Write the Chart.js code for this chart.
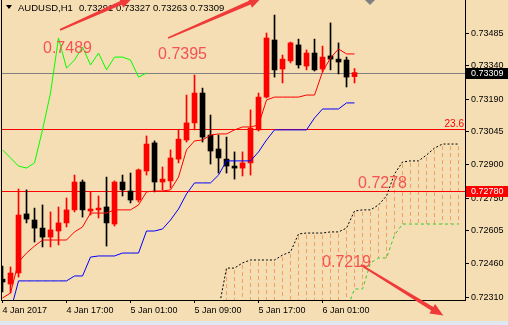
<!DOCTYPE html>
<html>
<head>
<meta charset="utf-8">
<script src="https://cdn.jsdelivr.net/npm/chart.js@4.4.1/dist/chart.umd.min.js"></script>
<style>
  html, body { margin: 0; padding: 0; background: #f5deb3; overflow: hidden; }
  #wrap { width: 508px; height: 325px; }
</style>
</head>
<body>
<div id="wrap"><canvas id="myChart" width="508" height="325"></canvas></div>
<script>
// AUDUSD H1, bar 0 = 4 Jan 2017 09:00, one bar per hour
const open = [0.72390, 0.72368, 0.72417, 0.72680, 0.72653, 0.72617, 0.72577, 0.72604, 0.72640, 0.72698,
  0.72822, 0.72693, 0.72698, 0.72711, 0.72635, 0.72822, 0.72782, 0.72742, 0.72871, 0.72996,
  0.72822, 0.72827, 0.72924, 0.73009, 0.73085, 0.73218, 0.73031, 0.72969, 0.72924, 0.72893,
  0.72884, 0.72907, 0.73054, 0.73200, 0.73454, 0.73325, 0.73361, 0.73432, 0.73338, 0.73396,
  0.73325, 0.73383, 0.73369, 0.73365, 0.73291];
const high = [0.72448, 0.72444, 0.72791, 0.72787, 0.72706, 0.72720, 0.72689, 0.72711, 0.72751, 0.72853,
  0.72831, 0.72778, 0.72760, 0.72844, 0.72827, 0.72853, 0.72862, 0.72880, 0.73027, 0.73005,
  0.72889, 0.72965, 0.73054, 0.73209, 0.73298, 0.73240, 0.73120, 0.73031, 0.73022, 0.72956,
  0.72956, 0.73143, 0.73218, 0.73485, 0.73565, 0.73387, 0.73445, 0.73458, 0.73410, 0.73458,
  0.73427, 0.73530, 0.73441, 0.73378, 0.73327];
const low = [0.72333, 0.72328, 0.72399, 0.72640, 0.72555, 0.72533, 0.72533, 0.72542, 0.72622, 0.72689,
  0.72666, 0.72675, 0.72662, 0.72537, 0.72626, 0.72760, 0.72729, 0.72733, 0.72853, 0.72778,
  0.72787, 0.72795, 0.72907, 0.73000, 0.73054, 0.73000, 0.72902, 0.72862, 0.72862, 0.72835,
  0.72849, 0.72853, 0.73049, 0.73196, 0.73289, 0.73263, 0.73352, 0.73329, 0.73321, 0.73316,
  0.73312, 0.73321, 0.73303, 0.73245, 0.73263];
const close = [0.72377, 0.72417, 0.72675, 0.72657, 0.72617, 0.72577, 0.72609, 0.72640, 0.72698, 0.72822,
  0.72698, 0.72702, 0.72706, 0.72640, 0.72822, 0.72787, 0.72742, 0.72876, 0.72991, 0.72822,
  0.72835, 0.72929, 0.73013, 0.73085, 0.73218, 0.73022, 0.72960, 0.72929, 0.72893, 0.72884,
  0.72907, 0.73062, 0.73200, 0.73463, 0.73321, 0.73369, 0.73441, 0.73343, 0.73396, 0.73321,
  0.73378, 0.73369, 0.73356, 0.73289, 0.73309];

// ichimoku lines
const tenkan = [0.72306, 0.72328, 0.72466, 0.72506, 0.72537, 0.72564, 0.72564, 0.72564, 0.72564, 0.72600,
  0.72622, 0.72684, 0.72684, 0.72684, 0.72698, 0.72698, 0.72698, 0.72720, 0.72778, 0.72782,
  0.72782, 0.72787, 0.72844, 0.72965, 0.73005, 0.73009, 0.73031, 0.73036, 0.73036, 0.73054,
  0.73067, 0.73067, 0.73076, 0.73187, 0.73200, 0.73200, 0.73200, 0.73200, 0.73209, 0.73209,
  0.73312, 0.73374, 0.73414, 0.73392, 0.73392];
const kijun = [0.72248, 0.72248, 0.72382, 0.72382, 0.72382, 0.72382, 0.72382, 0.72382, 0.72382, 0.72404,
  0.72404, 0.72488, 0.72493, 0.72493, 0.72493, 0.72506, 0.72506, 0.72506, 0.72604, 0.72604,
  0.72613, 0.72653, 0.72702, 0.72769, 0.72818, 0.72818, 0.72818, 0.72853, 0.72916, 0.72916,
  0.72916, 0.72916, 0.72956, 0.73009, 0.73054, 0.73054, 0.73054, 0.73054, 0.73054, 0.73107,
  0.73147, 0.73147, 0.73147, 0.73174, 0.73174];
const chikou = [0.72965, 0.72929, 0.72893, 0.72884, 0.72907, 0.73054, 0.73218, 0.73463, 0.73329, 0.73365,
  0.73423, 0.73343, 0.73396, 0.73321, 0.73378, 0.73378, 0.73365, 0.73289, 0.73307];

// cloud, starts at bar 27
const cloudStart = 27;
const spanA = [0.72253, 0.72439, 0.72439, 0.72462, 0.72475, 0.72475, 0.72475, 0.72475, 0.72497, 0.72511,
  0.72591, 0.72595, 0.72595, 0.72595, 0.72600, 0.72600, 0.72617, 0.72693, 0.72698, 0.72698,
  0.72720, 0.72760, 0.72858, 0.72911, 0.72916, 0.72916, 0.72942, 0.72973, 0.72991, 0.72991,
  0.72991];
const spanB = [null, null, null, null, null, null, null, null, null, null,
  null, null, null, null, null, null, 0.72250, 0.72346, 0.72346, 0.72462,
  0.72484, 0.72484, 0.72586, 0.72635, 0.72635, 0.72635, 0.72635, 0.72635, 0.72635, 0.72635,
  0.72635];

const fibLevels = [0.73058, 0.72780];
const fibTag = '23.6';

const xTickIdx = [0, 8, 16, 24, 32, 40];
const xTickLabels = ['4 Jan 2017', '4 Jan 17:00', '5 Jan 01:00', '5 Jan 09:00', '5 Jan 17:00', '6 Jan 01:00'];
const yTicks = [0.73485, 0.73340, 0.73190, 0.73045, 0.72900, 0.72750, 0.72605, 0.72460, 0.72310];

// hand drawn notes (bar index, price)
const noteText = ['0.7489', '0.7395', '0.7278', '0.7219'];
const noteIdx = [5.06, 19.44, 44.44, 39.94];
const notePrice = [0.73396, 0.73369, 0.72795, 0.72444];
const arrowFrom = [[7.19, 0.73499], [20.7, 0.73463], [44.8, 0.72453]];
const arrowTo = [[16.3, 0.73643], [32.4, 0.73643], [55.1, 0.72228]];

const BULL = '#ff0000', BEAR = '#000000';
const candleCol = close.map((c, i) => c >= open[i] ? BULL : BEAR);
const FONT = "'Liberation Sans', Arial, sans-serif";

const pts = (arr, start) => arr.map((v, i) => ({ x: i + (start || 0), y: v }));

function arrow(ctx, x1, y1, x2, y2) {
  const a = Math.atan2(y2 - y1, x2 - x1), L = 13, W = 5.5;
  const c = Math.cos(a), s = Math.sin(a);
  const bx = x2 - L * c, by = y2 - L * s;
  ctx.beginPath();
  ctx.moveTo(x1 + 0.9 * s, y1 - 0.9 * c);
  ctx.lineTo(bx + 2 * s, by - 2 * c);
  ctx.lineTo(bx + W * s, by - W * c);
  ctx.lineTo(x2, y2);
  ctx.lineTo(bx - W * s, by + W * c);
  ctx.lineTo(bx - 2 * s, by + 2 * c);
  ctx.lineTo(x1 - 0.9 * s, y1 + 0.9 * c);
  ctx.closePath();
  ctx.fill();
}

const deco = {
  id: 'deco',
  beforeDraw(chart) {
    const { ctx, width, height } = chart;
    ctx.save();
    ctx.fillStyle = '#f5deb3';
    ctx.fillRect(0, 0, width, height);
    ctx.fillStyle = '#dfe7f0';
    ctx.fillRect(0, height - 4, width, 4);
    ctx.restore();
  },
  beforeDatasetsDraw(chart) {
    const { ctx, chartArea: a, scales: { x, y } } = chart;
    ctx.save();
    ctx.beginPath();
    ctx.rect(a.left, a.top, a.right - a.left, a.bottom - a.top);
    ctx.clip();
    // cloud hatch
    ctx.strokeStyle = '#f7a05a';
    ctx.lineWidth = 1;
    ctx.setLineDash([4, 3]);
    spanA.forEach((v, k) => {
      if (v == null) return;
      const px = Math.floor(x.getPixelForValue(cloudStart + k)) + 0.5;
      const y1 = y.getPixelForValue(v);
      const y2 = spanB[k] == null ? a.bottom : y.getPixelForValue(spanB[k]);
      if (y1 >= a.bottom) return;
      ctx.beginPath();
      ctx.moveTo(px, y1 + 2);
      ctx.lineTo(px, y2);
      ctx.stroke();
    });
    ctx.setLineDash([]);
    // bid line
    const bid = close[close.length - 1];
    const py = Math.round(y.getPixelForValue(bid)) + 0.5;
    ctx.strokeStyle = '#808080';
    ctx.beginPath(); ctx.moveTo(a.left, py); ctx.lineTo(a.right, py); ctx.stroke();
    ctx.strokeStyle = '#ff0000';
    fibLevels.forEach(v => {
      const p = Math.round(y.getPixelForValue(v)) + 0.5;
      ctx.beginPath(); ctx.moveTo(a.left, p); ctx.lineTo(a.right + 1, p); ctx.stroke();
    });
    ctx.restore();
  },
  afterDraw(chart) {
    const { ctx, chartArea: a, scales: { x, y } } = chart;
    ctx.save();
    // left border
    ctx.fillStyle = '#000';
    ctx.fillRect(a.left, a.top, 1, a.bottom - a.top);
    // header
    ctx.beginPath();
    ctx.moveTo(6, 5); ctx.lineTo(12, 5); ctx.lineTo(9, 9); ctx.closePath(); ctx.fill();
    ctx.font = '9.5px ' + FONT;
    ctx.textBaseline = 'alphabetic';
    ctx.textAlign = 'left';
    const n = close.length - 1;
    ctx.fillText('AUDUSD,H1', 18, 11);
    ctx.fillText([open[n], high[n], low[n], close[n]].map(v => v.toFixed(5)).join(' '), 79, 11);
    // shift marker
    ctx.fillStyle = '#808080';
    ctx.beginPath();
    ctx.moveTo(365, 0); ctx.lineTo(375, 0); ctx.lineTo(370, 5); ctx.closePath(); ctx.fill();
    // fib tag
    ctx.fillStyle = '#ff0000';
    ctx.font = '10px ' + FONT;
    ctx.textAlign = 'right';
    ctx.fillText(fibTag, a.right - 1, Math.round(y.getPixelForValue(fibLevels[0])) - 2);
    // notes
    ctx.fillStyle = 'rgb(242,84,84)';
    ctx.font = '16px ' + FONT;
    ctx.textAlign = 'left';
    noteText.forEach((t, i) => ctx.fillText(t, x.getPixelForValue(noteIdx[i]), y.getPixelForValue(notePrice[i])));
    // arrows
    ctx.fillStyle = 'rgb(240,58,58)';
    arrowFrom.forEach((f, i) => arrow(ctx,
      x.getPixelForValue(f[0]), y.getPixelForValue(f[1]),
      x.getPixelForValue(arrowTo[i][0]), y.getPixelForValue(arrowTo[i][1])));
    // price boxes on axis
    ctx.font = '9px ' + FONT;
    ctx.textBaseline = 'middle';
    ctx.textAlign = 'left';
    const box = (v, bg) => {
      const p = Math.round(y.getPixelForValue(v));
      ctx.fillStyle = bg;
      ctx.fillRect(a.right + 1, p - 5, chart.width - a.right - 1, 11);
      ctx.fillStyle = '#fff';
      ctx.fillText(v.toFixed(5), a.right + 6, p + 0.5);
    };
    box(close[n], '#000');
    box(fibLevels[1], '#ff0000');
    ctx.restore();
  }
};

Chart.defaults.font.family = FONT;
Chart.defaults.font.size = 9;
Chart.defaults.color = '#000';

const config = {
  type: 'bar',
  data: {
    datasets: [
      { type: 'line', data: pts(tenkan), borderColor: '#ff0000', borderWidth: 1, pointRadius: 0, order: 0 },
      { type: 'line', data: pts(kijun), borderColor: '#0000ff', borderWidth: 1, pointRadius: 0, order: 0 },
      { type: 'line', data: pts(chikou), borderColor: '#00ff00', borderWidth: 1, pointRadius: 0, order: 0 },
      { type: 'line', data: pts(spanA, cloudStart), borderColor: '#000', borderWidth: 1, borderDash: [2, 2], pointRadius: 0, order: 0 },
      { type: 'line', data: pts(spanB, cloudStart), borderColor: '#2ecc2e', borderWidth: 1, borderDash: [3, 3], pointRadius: 0, spanGaps: false, order: 0 },
      { type: 'bar', data: open.map((o, i) => ({ x: i, y: [low[i], high[i]] })), backgroundColor: candleCol,
        barThickness: 1, grouped: false, borderWidth: 0, order: 1 },
      { type: 'bar', data: open.map((o, i) => ({ x: i, y: [o, close[i]] })), backgroundColor: candleCol,
        barThickness: 5, minBarLength: 1, grouped: false, borderWidth: 0, order: 1 }
    ]
  },
  options: {
    responsive: false,
    animation: false,
    devicePixelRatio: 1,
    layout: { padding: { left: 1, right: 0, top: 0, bottom: 4 } },
    plugins: { legend: { display: false }, tooltip: { enabled: false } },
    scales: {
      x: {
        type: 'linear', min: -0.19, max: 57.81, offset: false,
        grid: { drawOnChartArea: false, tickLength: 3, color: '#000', offset: false },
        border: { display: true, color: '#000' },
        ticks: {
          autoSkip: false, maxRotation: 0, align: 'start', padding: 2,
          callback: v => { const k = xTickIdx.indexOf(v); return k < 0 ? '' : xTickLabels[k]; }
        },
        afterBuildTicks: s => { s.ticks = xTickIdx.map(v => ({ value: v })); },
        afterFit: s => { s.height = 21; s.paddingLeft = 0; s.paddingRight = 0; }
      },
      y: {
        position: 'right', min: 0.72297, max: 0.73632, beginAtZero: false,
        grid: { drawOnChartArea: false, tickLength: 4, color: '#000' },
        border: { display: true, color: '#000' },
        ticks: { autoSkip: false, padding: 2, callback: v => v.toFixed(5) },
        afterBuildTicks: s => { s.ticks = yTicks.map(v => ({ value: v })); },
        afterFit: s => { s.width = 43; s.paddingTop = 0; s.paddingBottom = 0; }
      }
    }
  },
  plugins: [deco]
};

const myChart = new Chart(document.getElementById('myChart'), config);
</script>
</body>
</html>
